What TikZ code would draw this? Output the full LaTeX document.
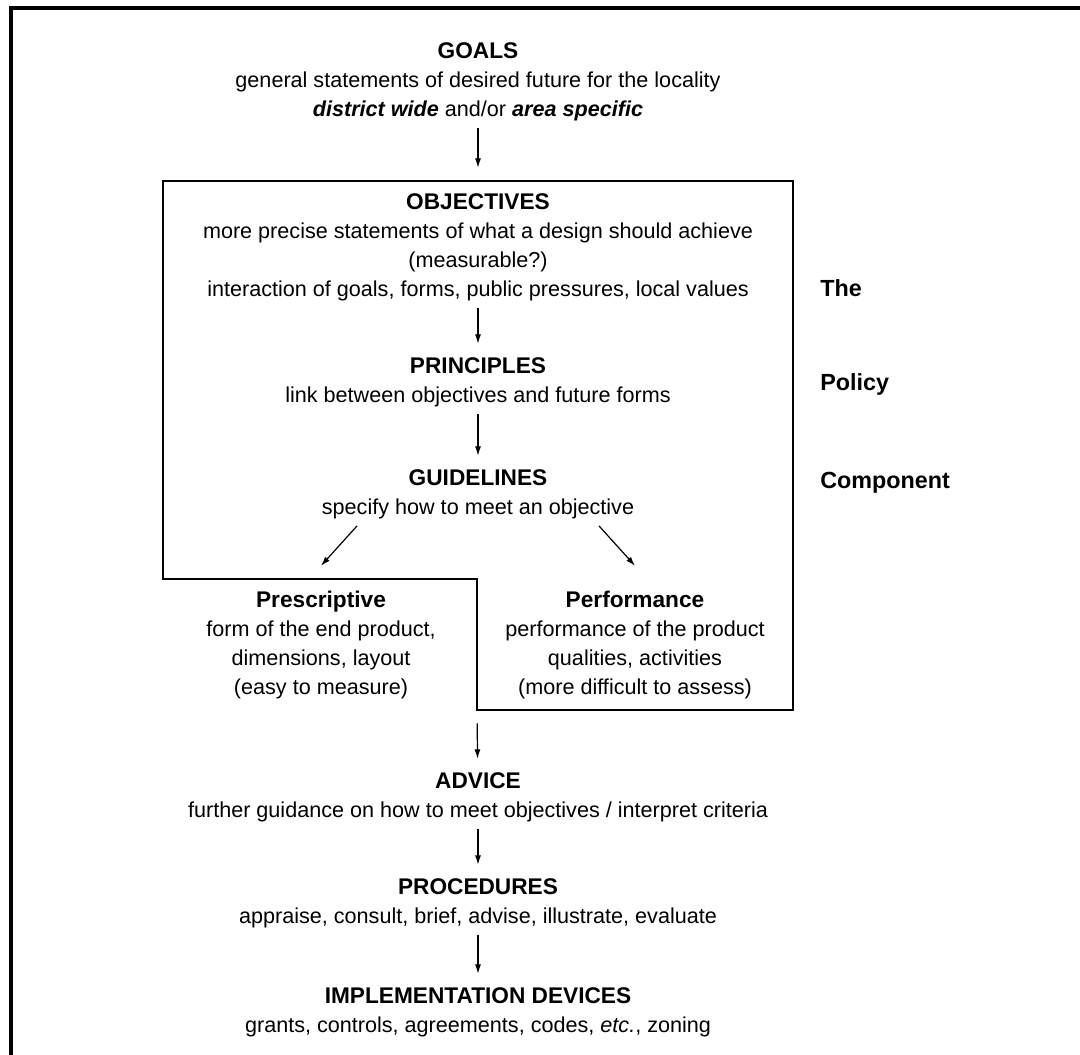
\documentclass[tikz,border=0pt]{standalone}
\usepackage{fontspec}
\setmainfont{Liberation Sans}
\usetikzlibrary{arrows.meta, positioning, calc}

\newcommand{\heading}[1]{{\fontsize{17}{21.75}\selectfont\bfseries #1}}

\begin{document}
\begin{tikzpicture}[
  x=0.75pt, y=-0.75pt,
  every node/.style={align=center, inner sep=0pt, font=\fontsize{16.2}{21.75}\selectfont},
  arrow/.style={-{Latex[length=7pt,width=4.5pt]}, line width=0.9pt, shorten <=5pt, shorten >=10pt},
  diag/.style={arrow, shorten <=0pt, shorten >=0pt},
  side/.style={anchor=west, font=\fontsize{17.5}{21.75}\selectfont\bfseries},
]
\useasboundingbox (0,0) rectangle (1080,1055);

% Frame
\draw [line width=2.4pt] (11,1055) -- (11,8) -- (1080,8);

% Policy box
\draw [line width=1.4pt] (163,181) -- (793,181) -- (793,710) -- (477,710) -- (477,579) -- (163,579) -- cycle;
\coordinate (boxfoot) at (477,710);

% Nodes
\node (goals)      at (478,82)  {\heading{GOALS}\\ general statements of desired future for the locality\\ \textbf{\textit{district wide}} and/or \textbf{\textit{area specific}}};
\node (objectives) at (478,247) {\heading{OBJECTIVES}\\ more precise statements of what a design should achieve\\ (measurable?)\\ interaction of goals, forms, public pressures, local values};
\node (principles) at (478,382) {\heading{PRINCIPLES}\\ link between objectives and future forms};
\node (guide)      at (478,494) {\heading{GUIDELINES}\\ specify how to meet an objective};
\node (presc)      at (321,645) {\heading{Prescriptive}\\ form of the end product,\\ dimensions, layout\\ (easy to measure)};
\node (perf)       at (635,645) {\heading{Performance}\\ performance of the product\\ qualities, activities\\ (more difficult to assess)};
\node (advice)     at (478,797) {\heading{ADVICE}\\ further guidance on how to meet objectives / interpret criteria};
\node (procedures) at (478,903) {\heading{PROCEDURES}\\ appraise, consult, brief, advise, illustrate, evaluate};
\node (devices)    at (478,1012) {\heading{IMPLEMENTATION DEVICES}\\ grants, controls, agreements, codes, \textit{etc.}, zoning};

\node [side] (the)       at (820,288) {The};
\node [side] (policy)    at (820,384) {Policy};
\node [side] (component) at (820,483) {Component};

% Arrows
\draw [arrow, shorten >=19pt] (goals) -- (objectives);
\draw [arrow] (objectives) -- (principles);
\draw [arrow] (principles) -- (guide);
\draw [diag] ($(guide.south)+(-121,7)$) -- ($(presc.north)+(0,-25)$);
\draw [diag] ($(guide.south)+(121,7)$) -- ($(perf.north)+(0,-25)$);
\draw [arrow, shorten <=10pt] (boxfoot) -- (advice);
\draw [arrow] (advice) -- (procedures);
\draw [arrow] (procedures) -- (devices);

\end{tikzpicture}
\end{document}
